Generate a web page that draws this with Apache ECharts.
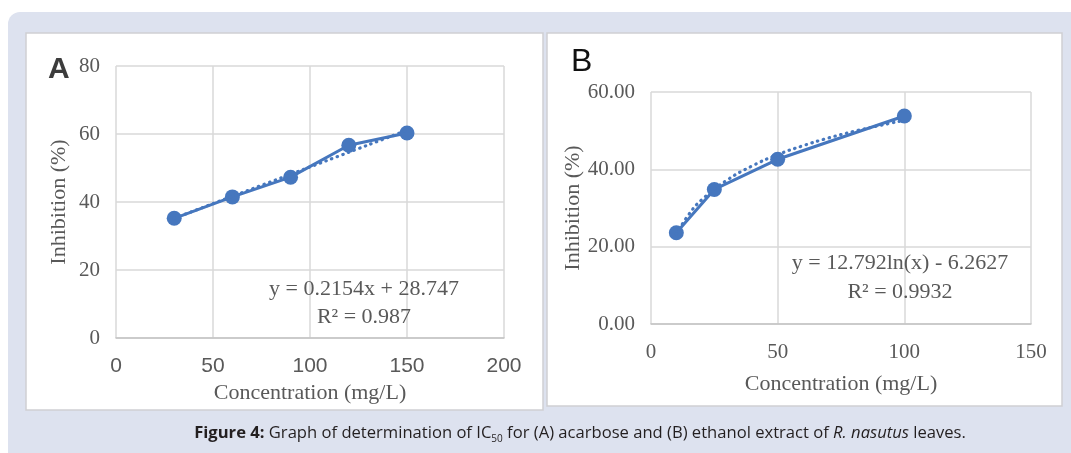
<!DOCTYPE html>
<html>
<head>
<meta charset="utf-8">
<title>Figure 4</title>
<script src="https://cdn.jsdelivr.net/npm/echarts@6/dist/echarts.min.js"></script>
<style>
  html, body { margin: 0; padding: 0; background: #fff; }
  #main { width: 1071px; height: 453px; }
</style>
</head>
<body>
<div id="main"></div>
<script>
  // panel A : acarbose
  var concA = [30, 60, 90, 120, 150];
  var inhibA = [35.2, 41.5, 47.3, 56.7, 60.3];
  // dotted linear trendline, ends
  var trendXA = [30, 150];
  var trendYA = [35.2, 61.1];

  // panel B : ethanol extract
  var concB = [10, 25, 50, 100];
  var inhibB = [23.6, 34.8, 42.6, 53.8];
  // dotted log trendline
  var trendXB = [10, 15, 20, 30, 40, 50, 60, 70, 80, 90, 100];
  var trendYB = [23.2, 28.4, 32.1, 37.2, 40.9, 43.8, 46.1, 48.1, 49.8, 51.3, 52.7];

  var eqA = ['y = 0.2154x + 28.747', 'R² = 0.987'];
  var eqB = ['y = 12.792ln(x) - 6.2627', 'R² = 0.9932'];

  function pairs(xs, ys) {
    return xs.map(function (x, i) { return [x, ys[i]]; });
  }

  var blue = '#4677be';
  var gray = '#595959';
  var serif = '"Liberation Serif", "Times New Roman", serif';
  var sans = '"Liberation Sans", Arial, sans-serif';
  var grid = { color: '#d9d9d9', width: 1.5 };

  function xAxisOf(idx, max, labelFont, nameGap) {
    return {
      type: 'value', gridIndex: idx, min: 0, max: max, interval: 50,
      axisLine: { show: true, lineStyle: { color: '#c4c4c4', width: 1.5 } },
      axisTick: { show: false },
      splitLine: { show: true, lineStyle: grid },
      axisLabel: { fontFamily: labelFont, fontSize: 21, color: gray, margin: 18 },
      name: 'Concentration (mg/L)', nameLocation: 'middle', nameGap: nameGap,
      nameTextStyle: { fontFamily: serif, fontSize: 22, color: gray }
    };
  }

  function yAxisOf(idx, max, fmt, nameGap) {
    return {
      type: 'value', gridIndex: idx, min: 0, max: max, interval: 20,
      axisLine: { show: false },
      axisTick: { show: false },
      splitLine: { show: true, lineStyle: grid },
      axisLabel: { fontFamily: serif, fontSize: 21, color: gray, margin: 16, formatter: fmt },
      name: 'Inhibition (%)', nameLocation: 'middle', nameGap: nameGap,
      nameTextStyle: { fontFamily: serif, fontSize: 22, color: gray }
    };
  }

  function dataLine(idx, xs, ys) {
    return {
      type: 'line', xAxisIndex: idx, yAxisIndex: idx,
      data: pairs(xs, ys),
      symbol: 'circle', symbolSize: 15,
      itemStyle: { color: blue },
      lineStyle: { color: blue, width: 3 },
      silent: true, animation: false, z: 3
    };
  }

  function trendLine(idx, xs, ys) {
    return {
      type: 'line', xAxisIndex: idx, yAxisIndex: idx,
      data: pairs(xs, ys), smooth: true,
      symbol: 'none',
      lineStyle: { color: blue, width: 3.2, type: [0.5, 5.5], cap: 'round' },
      silent: true, animation: false, z: 4
    };
  }

  function eqText(x, y, str) {
    return {
      type: 'text', x: x, y: y, z: 20,
      style: { text: str, fontFamily: serif, fontSize: 22, fill: gray, align: 'center', verticalAlign: 'middle' }
    };
  }

  var chart = echarts.init(document.getElementById('main'));
  chart.setOption({
    backgroundColor: '#ffffff',
    animation: false,
    grid: [
      { left: 116, top: 66, width: 388, height: 272 },
      { left: 651, top: 92, width: 380, height: 232 }
    ],
    xAxis: [
      xAxisOf(0, 200, sans, 40),
      xAxisOf(1, 150, serif, 49)
    ],
    yAxis: [
      yAxisOf(0, 80, '{value}', 46),
      yAxisOf(1, 60, function (v) { return v.toFixed(2); }, 66)
    ],
    series: [
      dataLine(0, concA, inhibA),
      trendLine(0, trendXA, trendYA),
      dataLine(1, concB, inhibB),
      trendLine(1, trendXB, trendYB)
    ],
    graphic: [
      // lavender frame, runs off the right edge
      { type: 'rect', z: -20, shape: { x: 8, y: 12, width: 1080, height: 460, r: 12 },
        style: { fill: '#dde2ef' } },
      // white panels
      { type: 'rect', z: -10, shape: { x: 26, y: 33, width: 517, height: 377 },
        style: { fill: '#ffffff', stroke: '#cfd0d3', lineWidth: 1.5 } },
      { type: 'rect', z: -10, shape: { x: 547, y: 33, width: 515, height: 373 },
        style: { fill: '#ffffff', stroke: '#cfd0d3', lineWidth: 1.5 } },
      // panel letters
      { type: 'text', x: 48, y: 70, z: 20,
        style: { text: 'A', fontFamily: sans, fontWeight: 'bold', fontSize: 30, fill: '#3c3c3c', verticalAlign: 'middle' } },
      { type: 'text', x: 571, y: 62, z: 20,
        style: { text: 'B', fontFamily: sans, fontSize: 32, fill: '#111111', verticalAlign: 'middle' } },
      // trendline equations
      eqText(364, 289, eqA[0]),
      eqText(364, 317, eqA[1]),
      eqText(900, 263, eqB[0]),
      eqText(900, 292, eqB[1]),
      // caption
      { type: 'text', x: 580, y: 433, z: 20,
        style: {
          text: '{b|Figure 4:} Graph of determination of IC{s|50} for (A) acarbose and (B) ethanol extract of {i|R. nasutus} leaves.',
          fontFamily: '"Open Sans", "Noto Sans", sans-serif', fontSize: 16.6, fill: '#231f20',
          align: 'center', verticalAlign: 'middle',
          rich: {
            b: { fontFamily: '"Open Sans", sans-serif', fontSize: 16.6, fontWeight: 'bold', color: '#231f20' },
            s: { fontFamily: '"Open Sans", sans-serif', fontSize: 10, padding: [12, 0, 0, 0], color: '#231f20' },
            i: { fontFamily: '"Open Sans", sans-serif', fontSize: 16.6, fontStyle: 'italic', color: '#231f20' }
          }
        } }
    ]
  });
</script>
</body>
</html>
